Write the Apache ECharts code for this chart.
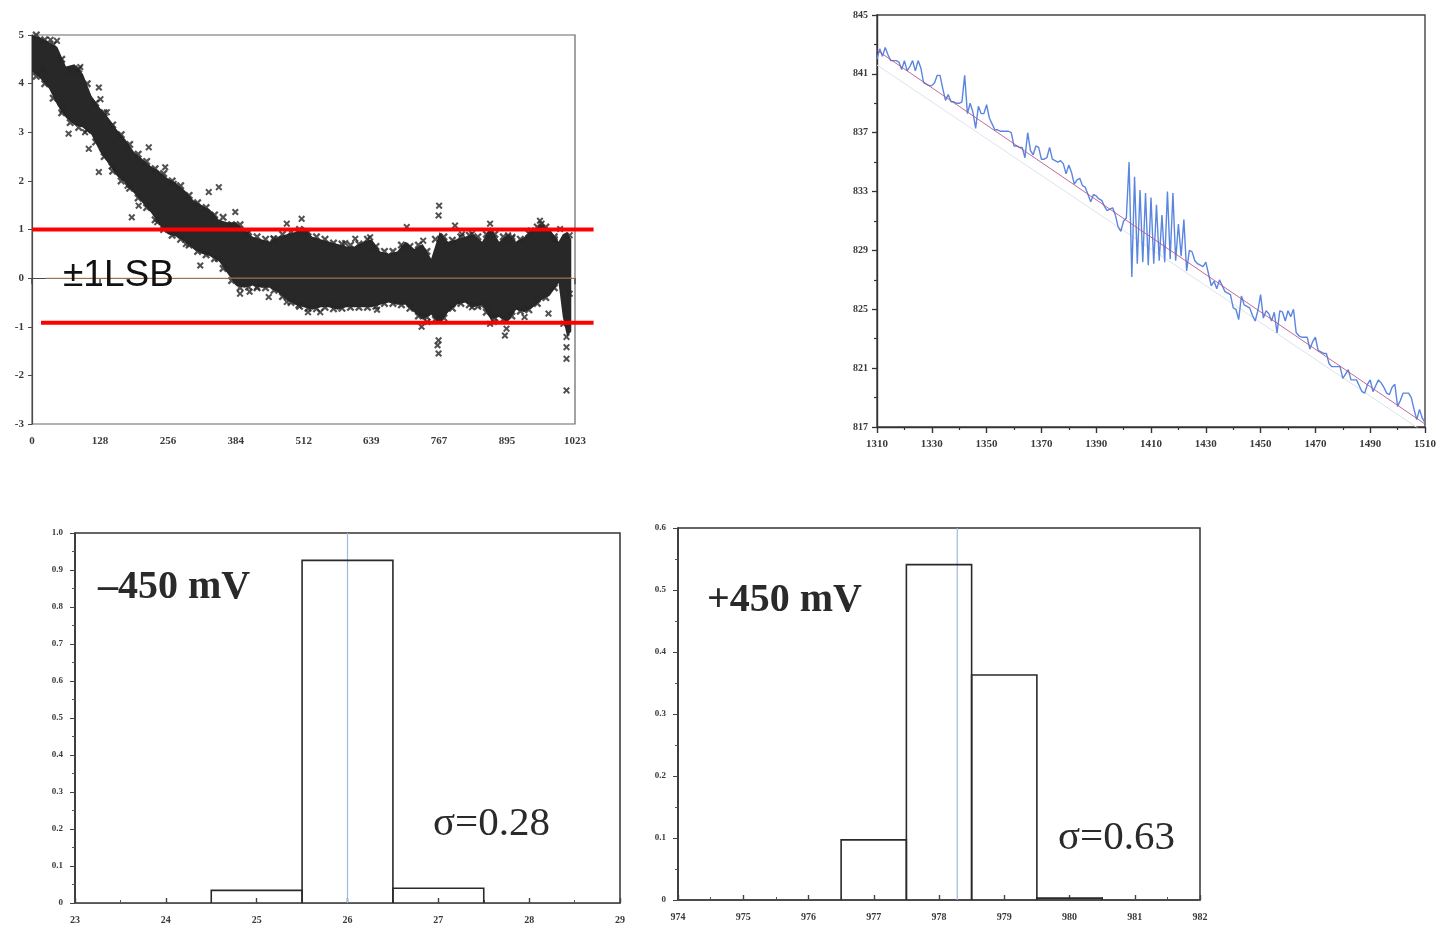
<!DOCTYPE html>
<html>
<head>
<meta charset="utf-8">
<title>ADC linearity and noise</title>
<script src="https://cdn.jsdelivr.net/npm/echarts@6/dist/echarts.min.js"></script>
<style>
  html, body { margin: 0; padding: 0; background: #ffffff; }
  #chart { width: 1439px; height: 928px; }
</style>
</head>
<body>
<div id="chart"></div>
<script>
// ---------- DNL vs. output code (top left) ----------
const dnlTickCodes = [0, 128, 256, 384, 512, 639, 767, 895, 1023];
// envelope of the dense point cloud: code, upper edge, lower edge (LSB)
const bandCodes = [0, 16, 32, 48, 64, 80, 96, 112, 128, 144, 160, 176, 192, 208, 224, 240, 256, 272, 288, 304, 320, 336, 352, 368, 384, 400, 416, 432, 448, 464, 480, 496, 512, 528, 544, 560, 576, 592, 608, 624, 640, 656, 672, 688, 704, 720, 736, 752, 768, 784, 800, 816, 832, 848, 864, 880, 896, 912, 928, 944, 960, 976, 992, 1000, 1008, 1016];
const bandUpper = [5.0, 4.95, 4.85, 4.75, 4.35, 4.4, 4.2, 3.75, 3.5, 3.3, 3.05, 2.85, 2.6, 2.45, 2.3, 2.2, 2.05, 1.95, 1.8, 1.6, 1.5, 1.4, 1.2, 1.15, 1.15, 1.0, 0.85, 0.8, 0.75, 0.85, 0.9, 0.95, 1.05, 0.85, 0.8, 0.75, 0.7, 0.65, 0.65, 0.75, 0.8, 0.55, 0.5, 0.55, 0.75, 0.6, 0.7, 0.4, 0.95, 0.75, 0.8, 0.85, 0.9, 0.75, 1.05, 0.75, 0.9, 0.75, 0.85, 1.0, 1.1, 1.0, 0.75, 0.9, 0.95, 0.8];
const bandLower = [4.25, 4.1, 3.9, 3.55, 3.3, 3.15, 3.1, 2.95, 2.6, 2.35, 2.1, 1.95, 1.75, 1.55, 1.35, 1.1, 0.9, 0.85, 0.75, 0.6, 0.5, 0.45, 0.35, 0.1, -0.15, -0.2, -0.15, -0.2, -0.2, -0.3, -0.45, -0.55, -0.6, -0.65, -0.6, -0.6, -0.65, -0.6, -0.6, -0.6, -0.6, -0.55, -0.5, -0.55, -0.55, -0.7, -0.85, -0.75, -0.95, -0.7, -0.55, -0.5, -0.6, -0.55, -0.85, -0.8, -0.9, -0.65, -0.7, -0.6, -0.45, -0.35, -0.1, -0.8, -1.2, -1.1];
// samples along the ragged upper and lower edges of the cloud: [code, DNL]
const dnlEdgeUpper = [
  [8, 5.0], [24, 4.9], [40, 4.8], [56, 4.5], [88, 4.3], [104, 4.0], [120, 3.6], [136, 3.4], [152, 3.15],
  [168, 2.95], [184, 2.75], [200, 2.55], [216, 2.4], [232, 2.25], [248, 2.15], [264, 2.0], [280, 1.9],
  [296, 1.7], [312, 1.55], [328, 1.45], [344, 1.3], [360, 1.25], [376, 1.1], [392, 1.1], [408, 0.95],
  [424, 0.85], [440, 0.8], [456, 0.8], [472, 0.9], [488, 0.95], [504, 1.0], [520, 0.95], [536, 0.85],
  [552, 0.8], [568, 0.72], [584, 0.7], [600, 0.68], [616, 0.7], [632, 0.8], [648, 0.65], [664, 0.55],
  [680, 0.55], [696, 0.68], [712, 0.65], [728, 0.68], [744, 0.55], [760, 0.8], [776, 0.85], [792, 0.78],
  [808, 0.85], [824, 0.88], [840, 0.85], [856, 0.9], [872, 0.9], [888, 0.85], [904, 0.82], [920, 0.8],
  [936, 0.92], [952, 1.05], [968, 1.05], [984, 0.85]
];
const dnlEdgeLower = [
  [8, 4.15], [24, 4.0], [40, 3.7], [56, 3.4], [72, 3.2], [88, 3.1], [104, 3.05], [120, 2.8], [136, 2.5],
  [152, 2.2], [168, 2.0], [184, 1.85], [200, 1.65], [216, 1.45], [232, 1.2], [248, 1.0], [264, 0.88],
  [280, 0.8], [296, 0.68], [312, 0.55], [328, 0.48], [344, 0.4], [360, 0.2], [376, -0.05], [392, -0.2],
  [408, -0.18], [424, -0.2], [440, -0.2], [456, -0.25], [472, -0.38], [488, -0.5], [504, -0.58],
  [520, -0.62], [536, -0.63], [552, -0.6], [568, -0.63], [584, -0.62], [600, -0.6], [616, -0.6],
  [632, -0.6], [648, -0.58], [664, -0.52], [680, -0.52], [696, -0.55], [712, -0.62], [728, -0.78],
  [744, -0.8], [760, -0.85], [776, -0.82], [792, -0.62], [808, -0.52], [824, -0.55], [840, -0.58],
  [856, -0.7], [872, -0.82], [888, -0.85], [904, -0.78], [920, -0.68], [936, -0.65], [952, -0.52],
  [968, -0.4], [984, -0.2]
];
// isolated samples outside the dense cloud: [code, DNL]
const dnlOutliers = [
  [35, 4.9], [47, 4.88], [69, 2.97], [72, 4.27], [85, 4.23], [91, 4.34], [107, 2.66], [126, 2.18], [126, 3.92],
  [129, 3.68], [141, 3.41], [188, 1.25], [201, 1.49], [220, 2.69], [251, 2.28], [267, 1.94], [317, 0.26],
  [333, 1.77], [352, 1.87], [383, 1.36], [392, -0.32], [405, 0.91], [424, -0.18], [446, -0.39], [480, 1.12],
  [480, -0.49], [502, -0.56], [508, 1.22], [543, -0.7], [565, -0.53], [609, 0.81], [637, 0.84], [706, 1.05],
  [734, -1.0], [737, 0.77], [764, -1.38], [766, -1.28], [766, -1.55], [766, 1.29], [767, 1.49], [797, 1.08],
  [829, -0.6], [829, 0.91], [847, -0.56], [863, 1.12], [863, -0.94], [891, -1.18], [894, -1.04], [897, 0.88],
  [928, -0.8], [957, 1.18], [960, 1.12], [973, -0.73], [995, 1.01], [1001, -0.94], [1007, -1.21], [1007, -1.42],
  [1007, -1.66], [1007, -2.31], [1013, 0.88], [1013, -0.32],
  [20, 4.3], [58, 3.45], [100, 3.0], [150, 2.3], [180, 1.9], [236, 1.15], [290, 0.7], [350, 0.4], [410, -0.28],
  [455, 0.82], [520, -0.7], [590, 0.72], [650, -0.65], [700, 0.62], [745, -0.9], [810, 0.9], [870, -0.9],
  [905, 0.85], [940, 0.98], [985, 0.8]
];
const zeroLine = [[25, 0], [1023, 0]];
// ±1 LSB guide lines
const lsbUpper = [[1, 1.0], [1058, 1.0]];
const lsbLower = [[17, -0.92], [1058, -0.92]];

// ---------- Transfer curve detail (top right) ----------
const codeStart = 1310;
const outputValues = [
  842.0, 842.7, 842.2, 842.8, 842.3, 841.9, 841.9, 841.9, 841.8, 841.3,
  841.9, 841.2, 841.5, 841.9, 841.2, 841.9, 841.4, 840.4, 840.3, 840.2,
  840.2, 840.4, 840.9, 840.9, 840.0, 839.2, 839.6, 839.1, 839.1, 839.0,
  839.0, 839.1, 840.9, 838.3, 839.0, 838.4, 837.3, 838.8, 838.3, 838.3,
  838.9, 838.0, 837.6, 837.2, 837.2, 837.1, 837.1, 837.1, 837.1, 837.0,
  836.1, 836.1, 836.0, 836.0, 835.3, 837.0, 835.8, 835.5, 836.1, 836.0,
  835.2, 835.2, 835.3, 836.0, 835.2, 835.1, 835.0, 835.1, 834.9, 834.2,
  834.8, 834.3, 833.5, 833.8, 833.9, 833.4, 833.3, 832.8, 832.3, 832.8,
  832.7, 832.5, 832.4, 832.0, 831.7, 831.8, 831.9, 831.4, 830.6, 830.3,
  831.0, 831.2, 835.0, 827.2, 834.0, 828.1, 833.1, 828.2, 832.9, 828.0,
  832.6, 828.1, 832.1, 828.3, 831.4, 828.2, 833.0, 828.4, 832.9, 828.3,
  830.8, 828.6, 831.1, 827.6, 829.0, 828.9, 828.3, 828.1, 828.0, 827.9,
  828.2, 827.4, 826.6, 826.9, 826.4, 827.0, 826.6, 826.2, 826.1, 826.0,
  825.1, 825.0, 824.3, 825.9, 825.3, 825.2, 825.1, 824.6, 824.2, 824.9,
  826.0, 824.4, 824.9, 824.7, 824.2, 824.8, 823.4, 824.9, 824.8, 824.2,
  824.9, 824.5, 825.0, 823.4, 823.2, 823.1, 823.1, 823.1, 822.3, 822.8,
  823.1, 822.2, 822.1, 822.0, 822.0, 821.3, 821.1, 821.1, 821.1, 821.1,
  820.3, 820.6, 820.9, 820.2, 820.2, 820.2, 819.8, 819.4, 819.3, 819.9,
  820.2, 819.4, 819.8, 820.2, 820.0, 819.7, 819.3, 819.2, 819.7, 819.9,
  818.4, 818.8, 819.3, 819.3, 819.3, 819.0, 818.2, 817.5, 818.2, 817.6,
  817.3
];
const fitLine = [[1310, 842.6], [1510, 817.2]];
const refLine = [[1310, 841.6], [1510, 816.6]];
const codeTicks = [1310, 1330, 1350, 1370, 1390, 1410, 1430, 1450, 1470, 1490, 1510];
const codeMinorTicks = [1320, 1340, 1360, 1380, 1400, 1420, 1440, 1460, 1480, 1500];
const levelTicks = [817, 821, 825, 829, 833, 837, 841, 845];
const levelMinorTicks = [819, 823, 827, 831, 835, 839, 843];

// ---------- Output-code histograms (bottom) ----------
const negBinLeft = [24.5, 25.5, 26.5];
const negBinHeight = [0.034, 0.926, 0.040];
const negMean = 26.0;
const posBinLeft = [976.5, 977.5, 978.5, 979.5];
const posBinHeight = [0.097, 0.541, 0.363, 0.003];
const posMean = 978.28;

const serifFont = '"Liberation Serif", "DejaVu Serif", serif';
const axisColor = '#4a4a4a';

const outputData = outputValues.map((v, i) => [codeStart + i, v]);
// bold "x" marker
const xMarker = 'path://M0,2L2,0L5,3L8,0L10,2L7,5L10,8L8,10L5,7L2,10L0,8L3,5Z';
const plain = v => String(v);

function tickLabel(size) {
  return { fontFamily: serifFont, fontSize: size, fontWeight: 'bold', color: '#3a3a3a' };
}

function histogram(binLeft, heights) {
  return binLeft.map((x, i) => [x, heights[i]]);
}

function renderBin(params, api) {
  const x0 = api.value(0);
  const h = api.value(1);
  const pts = [
    api.coord([x0, 0]),
    api.coord([x0, h]),
    api.coord([x0 + 1, h]),
    api.coord([x0 + 1, 0])
  ];
  return {
    type: 'polyline',
    shape: { points: pts },
    style: { stroke: '#2a2a2a', lineWidth: 1.6, fill: null }
  };
}

function renderBand(params, api) {
  if (params.dataIndex !== 0) return null;
  const top = bandCodes.map((c, i) => api.coord([c, bandUpper[i]]));
  const bottom = bandCodes.map((c, i) => api.coord([c, bandLower[i]])).reverse();
  return {
    type: 'polygon',
    shape: { points: top.concat(bottom) },
    style: { fill: '#282828' }
  };
}

const dnlGrid = { left: 32, top: 35, width: 543, height: 389 };
const overlayWidth = 562;

const markerSeries = (data, size) => ({
  type: 'scatter', xAxisIndex: 0, yAxisIndex: 0,
  data: data, symbol: xMarker, symbolSize: size,
  itemStyle: { color: '#262626' }, silent: true, z: 3
});

const option = {
  animation: false,
  backgroundColor: '#ffffff',
  grid: [
    Object.assign({ show: true, borderColor: '#666', borderWidth: 1.2 }, dnlGrid),
    { left: dnlGrid.left, top: dnlGrid.top, width: overlayWidth, height: dnlGrid.height },
    { left: 877, top: 15, width: 551, height: 412, show: true, borderColor: '#444', borderWidth: 1.4 },
    { left: 75, top: 533, width: 545, height: 370, show: true, borderColor: '#333', borderWidth: 1.5 },
    { left: 678, top: 528, width: 522, height: 372, show: true, borderColor: '#333', borderWidth: 1.5 }
  ],
  xAxis: [
    {
      gridIndex: 0, type: 'value', min: 0, max: 1023,
      axisLine: { lineStyle: { color: axisColor, width: 1.2 } },
      axisTick: { customValues: dnlTickCodes, length: 6, lineStyle: { color: axisColor, width: 1.5 } },
      axisLabel: Object.assign({ customValues: dnlTickCodes, margin: 12, formatter: plain }, tickLabel(11)),
      splitLine: { show: false }
    },
    {
      gridIndex: 1, type: 'value', min: 0, max: 1023 * overlayWidth / dnlGrid.width, show: false
    },
    {
      gridIndex: 2, type: 'value', min: 1310, max: 1510,
      axisLine: { lineStyle: { color: '#333', width: 1.4 } },
      axisTick: { customValues: codeTicks, length: 6, lineStyle: { color: '#333', width: 1.4 } },
      axisLabel: Object.assign({ customValues: codeTicks, margin: 12, formatter: plain }, tickLabel(11)),
      splitLine: { show: false }
    },
    {
      gridIndex: 2, type: 'value', min: 1310, max: 1510, position: 'bottom',
      axisLine: { show: false },
      axisTick: { customValues: codeMinorTicks, length: 3, lineStyle: { color: '#333', width: 1.2 } },
      axisLabel: { show: false },
      splitLine: { show: false }
    },
    {
      gridIndex: 3, type: 'value', min: 23, max: 29, interval: 1,
      axisLine: { lineStyle: { color: '#555', width: 1.2 } },
      axisTick: { inside: true, length: 5, lineStyle: { color: '#444', width: 1.4 } },
      minorTick: { show: true, splitNumber: 2, length: 3, lineStyle: { color: '#555' } },
      axisLabel: Object.assign({ margin: 12, formatter: plain }, tickLabel(10)),
      splitLine: { show: false }
    },
    {
      gridIndex: 4, type: 'value', min: 974, max: 982, interval: 1,
      axisLine: { lineStyle: { color: '#444', width: 1.5 } },
      axisTick: { inside: true, length: 5, lineStyle: { color: '#444', width: 1.4 } },
      minorTick: { show: true, splitNumber: 2, length: 3, lineStyle: { color: '#555' } },
      axisLabel: Object.assign({ margin: 12, formatter: plain }, tickLabel(10)),
      splitLine: { show: false }
    }
  ],
  yAxis: [
    {
      gridIndex: 0, type: 'value', min: -3, max: 5, interval: 1,
      axisLine: { show: true, lineStyle: { color: axisColor, width: 1.2 } },
      axisTick: { show: true, length: 4, lineStyle: { color: axisColor } },
      axisLabel: Object.assign({ margin: 8, formatter: plain }, tickLabel(11)),
      splitLine: { show: false }
    },
    {
      gridIndex: 1, type: 'value', min: -3, max: 5, show: false
    },
    {
      gridIndex: 2, type: 'value', min: 817, max: 845,
      axisLine: { show: true, lineStyle: { color: '#333', width: 1.4 } },
      axisTick: { show: true, customValues: levelTicks, length: 5, lineStyle: { color: '#333', width: 1.3 } },
      axisLabel: Object.assign({ customValues: levelTicks, margin: 9, formatter: plain }, tickLabel(10)),
      splitLine: { show: false }
    },
    {
      gridIndex: 2, type: 'value', min: 817, max: 845, position: 'left',
      axisLine: { show: false },
      axisTick: { show: true, customValues: levelMinorTicks, length: 3, lineStyle: { color: '#333', width: 1.2 } },
      axisLabel: { show: false },
      splitLine: { show: false }
    },
    {
      gridIndex: 3, type: 'value', min: 0, max: 1.0, interval: 0.1,
      axisLine: { show: true, lineStyle: { color: '#333', width: 1.5 } },
      axisTick: { show: true, length: 5, lineStyle: { color: '#444' } },
      minorTick: { show: true, splitNumber: 2, length: 3, lineStyle: { color: '#555' } },
      axisLabel: Object.assign({
        margin: 12,
        formatter: v => (v === 0 ? '0' : v.toFixed(1))
      }, tickLabel(9)),
      splitLine: { show: false }
    },
    {
      gridIndex: 4, type: 'value', min: 0, max: 0.6, interval: 0.1,
      axisLine: { show: true, lineStyle: { color: '#333', width: 1.5 } },
      axisTick: { show: true, length: 5, lineStyle: { color: '#444' } },
      minorTick: { show: true, splitNumber: 2, length: 3, lineStyle: { color: '#555' } },
      axisLabel: Object.assign({
        margin: 12,
        formatter: v => (v === 0 ? '0' : v.toFixed(1))
      }, tickLabel(9)),
      splitLine: { show: false }
    }
  ],
  series: [
    // dense DNL cloud
    {
      type: 'custom', xAxisIndex: 0, yAxisIndex: 0,
      data: [[bandCodes[0], bandUpper[0]]],
      renderItem: renderBand, silent: true, z: 2
    },
    markerSeries(dnlEdgeUpper, 8),
    markerSeries(dnlEdgeLower, 8),
    markerSeries(dnlOutliers, 7),
    {
      type: 'line', xAxisIndex: 0, yAxisIndex: 0, data: zeroLine,
      showSymbol: false, lineStyle: { color: '#d9a066', width: 1, opacity: 0.8 }, silent: true, z: 4
    },
    // ±1 LSB guides
    {
      type: 'line', xAxisIndex: 1, yAxisIndex: 1, data: lsbUpper,
      showSymbol: false, lineStyle: { color: '#ff0000', width: 4 }, silent: true, z: 6
    },
    {
      type: 'line', xAxisIndex: 1, yAxisIndex: 1, data: lsbLower,
      showSymbol: false, lineStyle: { color: '#ff0000', width: 4 }, silent: true, z: 6
    },
    // transfer curve detail
    {
      type: 'line', xAxisIndex: 2, yAxisIndex: 2, data: refLine,
      showSymbol: false, lineStyle: { color: '#dde2ee', width: 1 }, silent: true, z: 2
    },
    {
      type: 'line', xAxisIndex: 2, yAxisIndex: 2, data: outputData,
      showSymbol: false, lineStyle: { color: '#5a86e0', width: 1.4 }, silent: true, z: 3
    },
    {
      type: 'line', xAxisIndex: 2, yAxisIndex: 2, data: fitLine,
      showSymbol: false, lineStyle: { color: '#b4508c', width: 1, opacity: 0.85 }, silent: true, z: 4
    },
    // histograms
    {
      type: 'line', xAxisIndex: 4, yAxisIndex: 4, data: [[negMean, 0], [negMean, 1.0]],
      showSymbol: false, lineStyle: { color: '#9dbbe0', width: 1.2 }, silent: true, z: 2
    },
    {
      type: 'custom', xAxisIndex: 4, yAxisIndex: 4,
      data: histogram(negBinLeft, negBinHeight), renderItem: renderBin, silent: true, z: 3
    },
    {
      type: 'line', xAxisIndex: 5, yAxisIndex: 5, data: [[posMean, 0], [posMean, 0.6]],
      showSymbol: false, lineStyle: { color: '#9dbbe0', width: 1.2 }, silent: true, z: 2
    },
    {
      type: 'custom', xAxisIndex: 5, yAxisIndex: 5,
      data: histogram(posBinLeft, posBinHeight), renderItem: renderBin, silent: true, z: 3
    }
  ],
  graphic: [
    {
      type: 'text', left: 63, top: 257, z: 10,
      style: { text: '±1LSB', font: '37px "Liberation Sans", Arial, sans-serif', fill: '#111' }
    },
    {
      type: 'text', left: 98, top: 568, z: 10,
      style: { text: '–450 mV', font: 'bold 40px "Liberation Serif", serif', fill: '#2a2a2a' }
    },
    {
      type: 'text', left: 433, top: 804, z: 10,
      style: { text: 'σ=0.28', font: '41px "Liberation Serif", serif', fill: '#2a2a2a' }
    },
    {
      type: 'text', left: 707, top: 581, z: 10,
      style: { text: '+450 mV', font: 'bold 40px "Liberation Serif", serif', fill: '#2a2a2a' }
    },
    {
      type: 'text', left: 1058, top: 818, z: 10,
      style: { text: 'σ=0.63', font: '41px "Liberation Serif", serif', fill: '#2a2a2a' }
    }
  ]
};

const chart = echarts.init(document.getElementById('chart'), null, { renderer: 'canvas' });
chart.setOption(option);
</script>
</body>
</html>
